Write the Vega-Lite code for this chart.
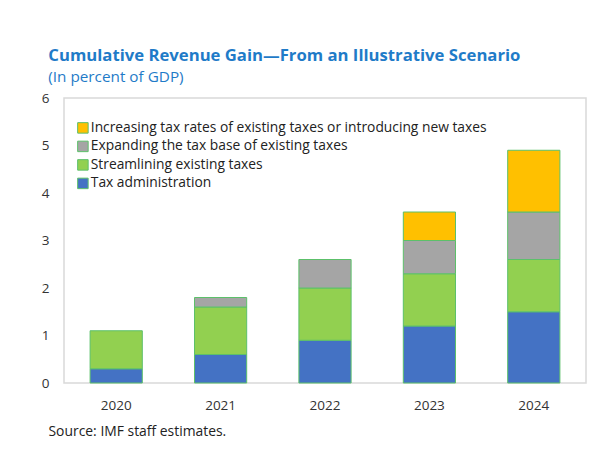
{
  "$schema": "https://vega.github.io/schema/vega-lite/v6.json",
  "width": 522,
  "height": 285,
  "autosize": {"type": "none"},
  "padding": {"left": 64, "top": 98, "right": 15, "bottom": 77},
  "background": "white",
  "title": {
    "text": "Cumulative Revenue Gain—From an Illustrative Scenario",
    "subtitle": "(In percent of GDP)",
    "anchor": "start",
    "dx": 7,
    "offset": 6,
    "font": "Open Sans",
    "fontSize": 16.7,
    "fontWeight": "bold",
    "color": "#1F7BC8",
    "subtitleFont": "Open Sans",
    "subtitleFontSize": 15.3,
    "subtitleColor": "#1F7BC8",
    "subtitlePadding": 5
  },
  "data": {
    "values": [
      {"year": "2020", "category": "Tax administration", "order": 1, "value": 0.3},
      {"year": "2020", "category": "Streamlining existing taxes", "order": 2, "value": 0.8},
      {"year": "2021", "category": "Tax administration", "order": 1, "value": 0.6},
      {"year": "2021", "category": "Streamlining existing taxes", "order": 2, "value": 1.0},
      {"year": "2021", "category": "Expanding the tax base of existing taxes", "order": 3, "value": 0.2},
      {"year": "2022", "category": "Tax administration", "order": 1, "value": 0.9},
      {"year": "2022", "category": "Streamlining existing taxes", "order": 2, "value": 1.1},
      {"year": "2022", "category": "Expanding the tax base of existing taxes", "order": 3, "value": 0.6},
      {"year": "2023", "category": "Tax administration", "order": 1, "value": 1.2},
      {"year": "2023", "category": "Streamlining existing taxes", "order": 2, "value": 1.1},
      {"year": "2023", "category": "Expanding the tax base of existing taxes", "order": 3, "value": 0.7},
      {"year": "2023", "category": "Increasing tax rates of existing taxes or introducing new taxes", "order": 4, "value": 0.6},
      {"year": "2024", "category": "Tax administration", "order": 1, "value": 1.5},
      {"year": "2024", "category": "Streamlining existing taxes", "order": 2, "value": 1.1},
      {"year": "2024", "category": "Expanding the tax base of existing taxes", "order": 3, "value": 1.0},
      {"year": "2024", "category": "Increasing tax rates of existing taxes or introducing new taxes", "order": 4, "value": 1.3}
    ]
  },
  "mark": {"type": "bar", "stroke": "#5CC06A", "strokeWidth": 1},
  "encoding": {
    "x": {
      "field": "year",
      "type": "ordinal",
      "scale": {"paddingInner": 0.5, "paddingOuter": 0.25},
      "axis": {
        "title": "Source: IMF staff estimates.",
        "titleAnchor": "start",
        "titleAlign": "left",
        "titleX": -16,
        "titleY": 41,
        "titleFont": "Open Sans",
        "titleFontSize": 13.9,
        "titleFontWeight": "normal",
        "titleColor": "#222222",
        "labelAngle": 0,
        "labelPadding": 15,
        "labelFont": "Open Sans",
        "labelFontSize": 13.5,
        "labelColor": "#333333",
        "domain": false,
        "ticks": false
      }
    },
    "y": {
      "field": "value",
      "type": "quantitative",
      "stack": "zero",
      "scale": {"domain": [0, 6], "nice": false},
      "axis": {
        "title": null,
        "values": [0, 1, 2, 3, 4, 5, 6],
        "grid": false,
        "domain": false,
        "ticks": false,
        "labelPadding": 15,
        "labelFont": "Open Sans",
        "labelFontSize": 13.5,
        "labelColor": "#333333"
      }
    },
    "color": {
      "field": "category",
      "type": "nominal",
      "scale": {
        "domain": [
          "Increasing tax rates of existing taxes or introducing new taxes",
          "Expanding the tax base of existing taxes",
          "Streamlining existing taxes",
          "Tax administration"
        ],
        "range": ["#FFC000", "#A5A5A5", "#92D050", "#4472C4"]
      },
      "legend": {
        "title": null,
        "orient": "none",
        "legendX": 12,
        "legendY": 23,
        "symbolType": "square",
        "symbolSize": 110,
        "symbolStrokeColor": "#5CC06A",
        "symbolStrokeWidth": 1,
        "labelFont": "Open Sans",
        "labelFontSize": 13.8,
        "labelColor": "#222222",
        "labelOffset": 1,
        "rowPadding": 2.5,
        "labelLimit": 500
      }
    },
    "order": {"field": "order", "type": "quantitative"}
  },
  "config": {
    "view": {"stroke": "#D9D9D9", "strokeWidth": 1.5}
  }
}
